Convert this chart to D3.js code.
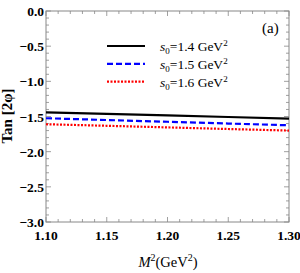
<!DOCTYPE html>
<html lang="en">
<head>
<meta charset="utf-8">
<title>Tan 2phi vs M2</title>
<script src="https://cdn.jsdelivr.net/npm/d3@7"></script>
<style>
  body { margin: 0; background: #fff; }
  text { font-family: "Liberation Serif", "Times New Roman", serif; }
  .tick-label { font-weight: bold; font-size: 13.5px; }
</style>
</head>
<body>
<script>
// data
var m2 = [1.10, 1.15, 1.20, 1.25, 1.30];
var s0Labels = ["1.4", "1.5", "1.6"];
var tan14 = [-1.44, -1.462, -1.485, -1.507, -1.53];
var tan15 = [-1.525, -1.55, -1.575, -1.60, -1.625];
var tan16 = [-1.61, -1.632, -1.655, -1.678, -1.70];
var xTicks = [1.10, 1.15, 1.20, 1.25, 1.30];
var yTicks = [0.0, -0.5, -1.0, -1.5, -2.0, -2.5, -3.0];

var w = 300, h = 273;
// plot box (note: "top" is reserved on window, so use a prefix)
var padL = 46, padR = 289, padT = 11, padB = 222;

var svg = d3.select("body").append("svg").attr("width", w).attr("height", h);

var x = d3.scaleLinear().domain([1.10, 1.30]).range([padL, padR]);
var y = d3.scaleLinear().domain([-3, 0]).range([padB, padT]);

// frame
svg.append("rect")
  .attr("x", padL).attr("y", padT)
  .attr("width", padR - padL).attr("height", padB - padT)
  .attr("fill", "none").attr("stroke", "#888").attr("stroke-width", 1);

// ticks (inward, all four sides)
var xMinor = d3.range(0, 21).map(function (i) { return 1.10 + i * 0.01; });
var yMinor = d3.range(0, 31).map(function (i) { return -3 + i * 0.1; });
var tickG = svg.append("g").attr("stroke", "#888").attr("stroke-width", 0.8);
xMinor.forEach(function (v, i) {
  var len = (i % 5 === 0) ? 5 : 3;
  tickG.append("line").attr("x1", x(v)).attr("x2", x(v)).attr("y1", padB).attr("y2", padB - len);
  tickG.append("line").attr("x1", x(v)).attr("x2", x(v)).attr("y1", padT).attr("y2", padT + len);
});
yMinor.forEach(function (v, i) {
  var len = (i % 5 === 0) ? 5 : 3;
  tickG.append("line").attr("y1", y(v)).attr("y2", y(v)).attr("x1", padL).attr("x2", padL + len);
  tickG.append("line").attr("y1", y(v)).attr("y2", y(v)).attr("x1", padR).attr("x2", padR - len);
});

// tick labels
svg.selectAll(".xl").data(xTicks).enter().append("text")
  .attr("class", "tick-label")
  .attr("x", function (d) { return x(d); })
  .attr("y", padB + 18)
  .attr("text-anchor", "middle")
  .text(function (d) { return d.toFixed(2); });

svg.selectAll(".yl").data(yTicks).enter().append("text")
  .attr("class", "tick-label")
  .attr("x", padL - 2)
  .attr("y", function (d) { return y(d) + 5; })
  .attr("text-anchor", "end")
  .text(function (d) { return d === 0 ? "0.0" : "\u2212" + Math.abs(d).toFixed(1); });

// axis titles
svg.append("text")
  .attr("transform", "translate(12," + 116 + ") rotate(-90)")
  .attr("text-anchor", "middle")
  .style("font-weight", "bold").style("font-size", "15px")
  .text("Tan [2\u03C6]");

var xt = svg.append("text")
  .attr("x", 168).attr("y", 267)
  .attr("text-anchor", "middle")
  .style("font-size", "14.5px");
xt.append("tspan").style("font-style", "italic").text("M");
xt.append("tspan").attr("dy", -6).style("font-size", "10px").text("2");
xt.append("tspan").attr("dy", 6).text("(GeV");
xt.append("tspan").attr("dy", -6).style("font-size", "10px").text("2");
xt.append("tspan").attr("dy", 6).text(")");

// series
var series = [
  { vals: tan14, color: "#000", dash: null, width: 2.2 },
  { vals: tan15, color: "#0000ff", dash: "6,3", width: 2.2 },
  { vals: tan16, color: "#ff0000", dash: "2,1.5", width: 2.2 }
];
var line = d3.line()
  .x(function (d, i) { return x(m2[i]); })
  .y(function (d) { return y(d); });

series.forEach(function (s, k) {
  svg.append("path")
    .attr("d", line(s.vals))
    .attr("fill", "none")
    .attr("stroke", s.color)
    .attr("stroke-width", s.width)
    .attr("stroke-dasharray", s.dash);

  // legend
  var ly = 46 + k * 17.8;
  svg.append("line")
    .attr("x1", 107).attr("x2", 145).attr("y1", ly).attr("y2", ly)
    .attr("stroke", s.color).attr("stroke-width", s.width)
    .attr("stroke-dasharray", s.dash);
  var t = svg.append("text").attr("x", 160).attr("y", ly + 5).style("font-size", "13.5px");
  t.append("tspan").style("font-style", "italic").text("s");
  t.append("tspan").attr("dy", 3).style("font-size", "9px").text("0");
  t.append("tspan").attr("dy", -3).text("=" + s0Labels[k] + " GeV");
  t.append("tspan").attr("dy", -5).style("font-size", "9px").text("2");
});

svg.append("text").attr("x", 262).attr("y", 33).style("font-size", "15px").text("(a)");
</script>
</body>
</html>
